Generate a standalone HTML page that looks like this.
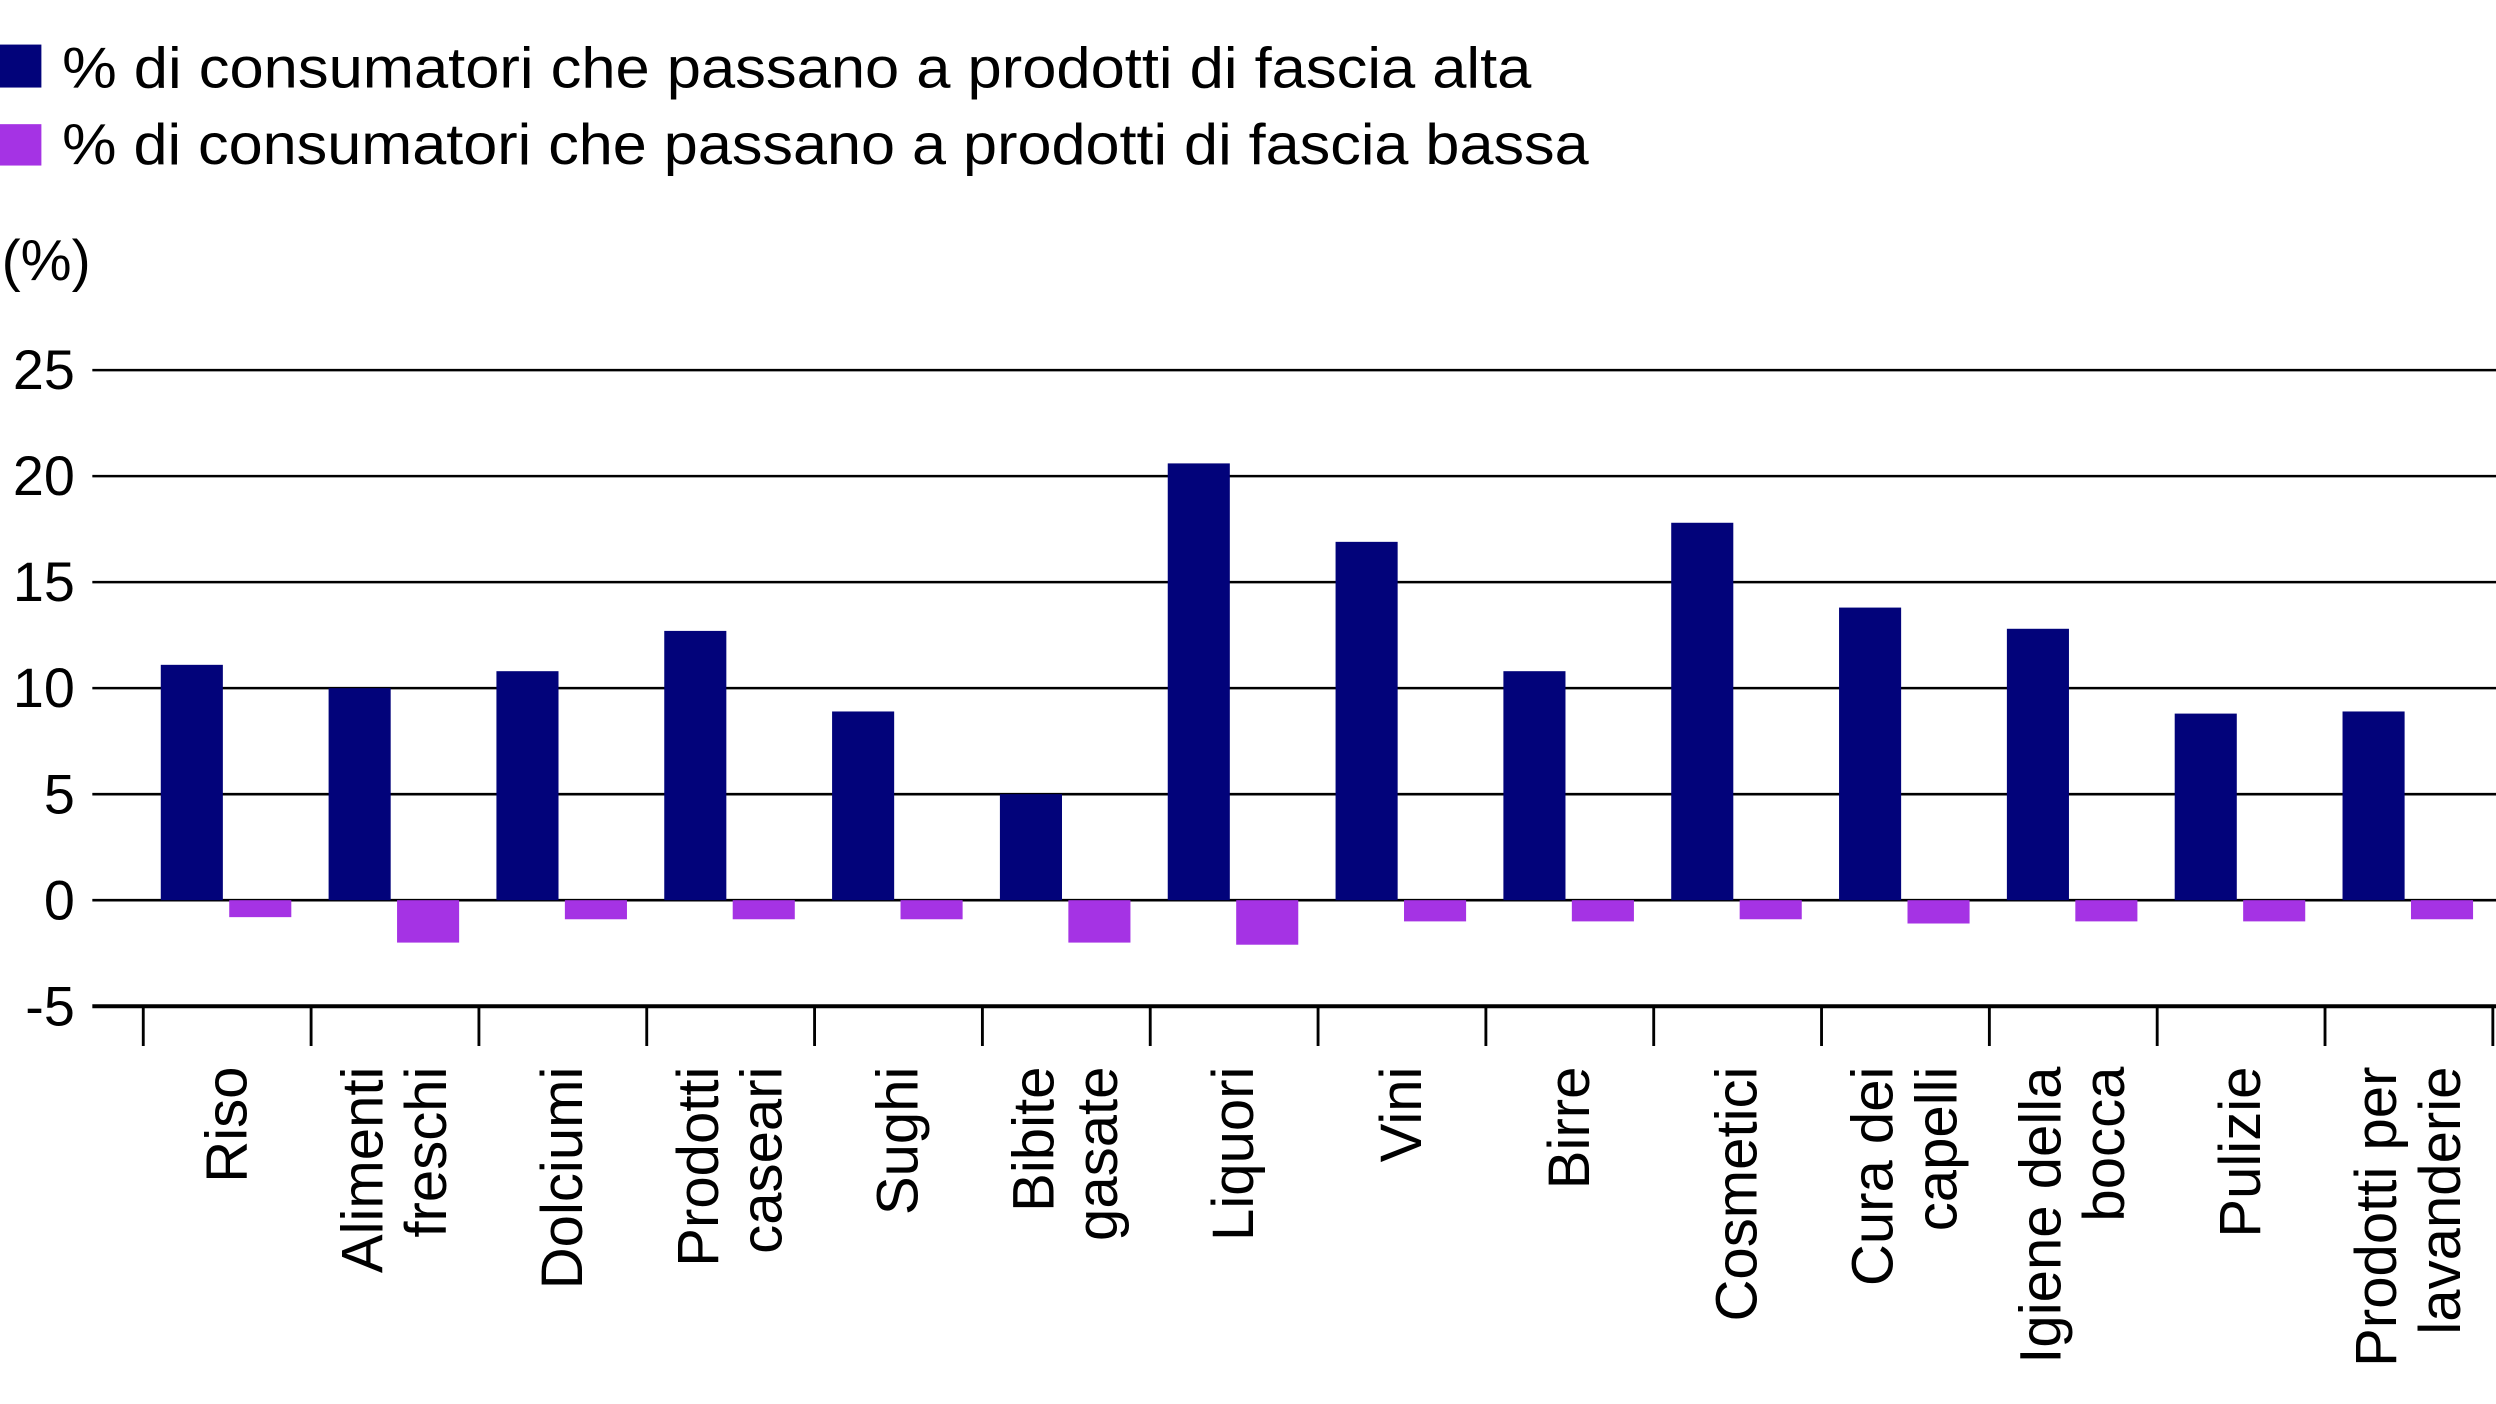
<!DOCTYPE html>
<html><head><meta charset="utf-8"><style>
html,body{margin:0;padding:0;background:#fff;}
svg{display:block;font-family:"Liberation Sans",sans-serif;}
</style></head><body>
<svg id="chart" width="2496" height="1404" viewBox="0 0 1568 882" xmlns="http://www.w3.org/2000/svg">
<g>
 <rect x="0" y="28" width="26" height="27" fill="#02037a"/>
 <text x="39" y="55" font-size="36" textLength="923" lengthAdjust="spacingAndGlyphs">% di consumatori che passano a prodotti di fascia alta</text>
 <rect x="0" y="78" width="26" height="26" fill="#a533e4"/>
 <text x="39" y="103" font-size="36" textLength="959" lengthAdjust="spacingAndGlyphs">% di consumatori che passano a prodotti di fascia bassa</text>
</g>
<text x="1" y="176" font-size="36">(%)</text>
<g id="grid"></g><g id="bars"></g><g id="xaxis"></g>
</svg>
<script>
const categories=[["Riso"],["Alimenti","freschi"],["Dolciumi"],["Prodotti","caseari"],["Sughi"],["Bibite","gasate"],["Liquori"],["Vini"],["Birre"],["Cosmetici"],["Cura dei","capelli"],["Igiene della","bocca"],["Pulizie"],["Prodotti per","lavanderie"]];
const highValues=[11.1,10,10.8,12.7,8.9,5,20.6,16.9,10.8,17.8,13.8,12.8,8.8,8.9];
const lowValues=[-0.8,-2,-0.9,-0.9,-0.9,-2,-2.1,-1,-1,-0.9,-1.1,-1,-1,-0.9];
const yTicks=[25,20,15,10,5,0,-5];

const NS="http://www.w3.org/2000/svg";
const y0=565.5, pxPerUnit=13.32, xLeft=90, catW=105.43, plotL=58, plotR=1568;
function y(v){return y0-v*pxPerUnit;}
function xCat(i){return xLeft+i*catW;}
function mk(t,a,p){const e=document.createElementNS(NS,t);for(const k in a)e.setAttribute(k,a[k]);p.appendChild(e);return e;}
const grid=document.getElementById('grid'),bars=document.getElementById('bars'),xa=document.getElementById('xaxis');
yTicks.forEach(v=>{
 const l=mk('line',{x1:plotL,x2:plotR,y1:y(v),y2:y(v),stroke:'#000','stroke-width':v===-5?2.5:1.6},grid);
 
 
 const t=mk('text',{x:47,y:y(v)+12,'font-size':35,'text-anchor':'end'},grid);
 t.textContent=v;
 
 
});
for(let i=0;i<=categories.length;i++){
 const l=mk('line',{x1:xCat(i),x2:xCat(i),y1:y(-5),y2:y(-5)+25,stroke:'#000','stroke-width':1.8},xa);
 
 
}
categories.forEach((c,i)=>{
 const x=xCat(i);
 const h=highValues[i], lo=lowValues[i];
 const b1=mk('rect',{x:x+11,y:Math.min(y(h),y0),width:39,height:Math.abs(y(h)-y0),fill:'#02037a'},bars);
 
 
 const b2=mk('rect',{x:x+54,y:Math.min(y(lo),y0),width:39,height:Math.abs(y(lo)-y0),fill:'#a533e4'},bars);
 
 
 const cx=x+catW/2;
 c.forEach((line,j)=>{
  const off=c.length===1?0:(j===0?-20:20);
  const lx=cx+off+12;
  const t=mk('text',{x:lx,y:670,'font-size':36.5,'text-anchor':'end',transform:`rotate(-90 ${lx} 670)`},xa);
  t.textContent=line;
  
  
 });
});
</script>
</body></html>
